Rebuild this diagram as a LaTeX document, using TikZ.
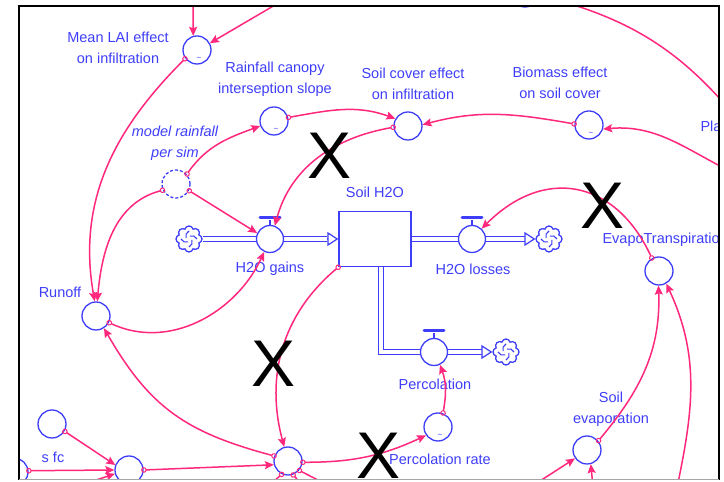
\documentclass[tikz,border=0pt]{standalone}
\usepackage{fontspec}
\setmainfont{Liberation Sans}
\usetikzlibrary{arrows.meta,shapes.symbols,backgrounds}

\definecolor{modellblau}{RGB}{62,62,250}
\definecolor{wirkpink}{RGB}{255,40,125}

\begin{document}
\begin{tikzpicture}[x=1pt, y=1pt,
	every node/.style={font=\fontsize{14.5}{21}\selectfont, text=modellblau},
	aux/.style={circle, draw=modellblau, line width=1.3pt, minimum size=28pt, inner sep=0pt, fill=white},
	valve/.style={aux, minimum size=27pt},
	stock/.style={rectangle, draw=modellblau, line width=1.3pt, minimum width=72pt, minimum height=55pt, fill=white},
	sink/.style={cloud, cloud puffs=8, aspect=1, draw=modellblau, line width=1.3pt, minimum width=26pt, minimum height=26pt, inner sep=0pt, fill=white},
	pipe/.style={draw=modellblau, double=white, line width=1.1pt, double distance=3.5pt},
	flowtip/.style={modellblau, line width=1.2pt, -{Triangle[length=11pt, width=14pt, fill=white]}},
	link/.style={wirkpink, line width=1.5pt, shorten <=-2.5pt,
		arrows={Circle[open, length=5.5pt, width=5.5pt, line width=1pt]-Stealth[length=9pt, width=8pt, inset=1.5pt]}},
	conn/.style={wirkpink, line width=1.5pt, -{Stealth[length=9pt, width=8pt, inset=1.5pt]}},
	beschr/.style={align=center},
	kreuz/.style={text=black, font=\fontsize{66}{66}\selectfont}
	]
	\useasboundingbox (0,0) rectangle (724,482);
	
	\begin{scope}
		\clip (19,2) rectangle (719,476);
		
		% Hilfsgroessen
		\node[aux] (meanlai) at (197,432) {};
		\node[aux] (slope) at (274,361) {};
		\node[aux, densely dashed] (modelrain) at (176,298) {};
		\node[aux] (soilcover) at (408,356) {};
		\node[aux] (biomass) at (589,357) {};
		\node[aux] (runoff) at (96,166) {};
		\node[aux] (evapo) at (659,211) {};
		\node[aux] (soilevap) at (587,32) {};
		\node[aux] (percrate) at (438,55) {};
		\node[aux] (sfc) at (52,58) {};
		\node[aux] (infil) at (288,21) {};
		\node[aux] (fc) at (129,12) {};
		\node[aux] (randlinks) at (14,10) {};
		\node[aux] (randoben) at (525,489) {};
		
		% kleine Tilde = Tabellenfunktion
		\foreach \g in {meanlai,slope,biomass,percrate}
			\node[font=\fontsize{8}{8}\selectfont, inner sep=0pt] (tilde\g) at ([xshift=2pt,yshift=-9pt]\g.center) {\textasciitilde};
		
		% Bestand, Ventile, Wolken
		\node[stock] (soil) at (375,243) {};
		\node[valve] (gains) at (270,243) {};
		\node[valve] (losses) at (472,243) {};
		\node[valve] (perc) at (434,130) {};
		\node[sink] (quelle) at (189,243) {};
		\node[sink] (senke) at (549,243) {};
		\node[sink] (senkeperc) at (506,130) {};
		
		\foreach \c in {quelle,senke,senkeperc}
			\foreach \w in {0,90,180,270}
				\draw[modellblau, line width=1.1pt] (\c.center) +(\w:8pt) to[bend right=45] +(\w+75:3pt);
		
		% Rohre
		\begin{scope}[on background layer]
			\draw[pipe] (quelle) -- ([xshift=-11pt]soil.west);
			\draw[pipe] (soil.east) -- ([xshift=-10pt]senke.west);
			\draw[pipe] ([xshift=6pt]soil.south) |- ([xshift=-10pt]senkeperc.west);
		\end{scope}
		\draw[flowtip] ([xshift=-11pt]soil.west) -- (soil.west);
		\draw[flowtip] ([xshift=-10pt]senke.west) -- (senke.west);
		\draw[flowtip] ([xshift=-10pt]senkeperc.west) -- (senkeperc.west);
		
		% Ventilgriffe
		\foreach \v in {gains,losses,perc} {
			\draw[modellblau, line width=1.3pt] (\v.north) -- ++(0,5);
			\draw[modellblau, line width=3pt, line cap=round] ([xshift=-10pt,yshift=7pt]\v.north) -- ([xshift=10pt,yshift=7pt]\v.north);
		}
		
		% Beschriftungen
		\node[beschr] (tmeanlai) at (118,434) {Mean LAI effect\\on infiltration};
		\node[beschr] (tslope) at (275,403) {Rainfall canopy\\interseption slope};
		\node[beschr, font=\fontsize{14.5}{21}\selectfont\itshape] (tmodelrain) at (175,339) {model rainfall\\per sim};
		\node[beschr] (tsoilcover) at (413,398) {Soil cover effect\\on infiltration};
		\node[beschr] (tbiomass) at (560,399) {Biomass effect\\on soil cover};
		\node[anchor=west] (tplant) at (697,356) {Plant};
		\node (tsoil) at (375,290) {Soil H2O};
		\node (tgains) at (270,213) {H2O gains};
		\node (tlosses) at (473,213) {H2O losses};
		\node[anchor=west] (tevapo) at (599,242) {EvapoTranspiration};
		\node (trunoff) at (60,190) {Runoff};
		\node (tperc) at (435,98) {Percolation};
		\node (tpercrate) at (440,23) {Percolation rate};
		\node[beschr] (tsoilevap) at (611,73) {Soil\\evaporation};
		\node (tsfc) at (53,25) {s fc};
		
		% Wirkungen
		\coordinate (obenA) at (193,490);
		\coordinate (obenB) at (287,484);
		\coordinate (obenC) at (550,484);
		\coordinate (rechtsA) at (740,306);
		\coordinate (rechtsB) at (740,360);
		\coordinate (untenR) at (674,-20);
		\coordinate (untenL) at (60,-10);
		\coordinate (untenM1) at (250,-20);
		\coordinate (untenM2) at (318,-20);
		\coordinate (untenM3) at (345,-12);
		\coordinate (untenS1) at (515,-15);
		\coordinate (untenS2) at (594,-15);
		
		\draw[conn] (obenA) -- (meanlai.105);
		\draw[conn] (obenB) -- (meanlai.28);
		\draw[conn] (obenC) to[out=-15, in=130] (rechtsB);
		\draw[link] (meanlai.216) to[out=225, in=100] (runoff.95);
		\draw[link] (modelrain.205) to[out=195, in=85] (runoff.85);
		\draw[link] (modelrain.42) to[out=55, in=200] (slope.200);
		\draw[link] (modelrain.333) -- (gains.155);
		\draw[link] (slope.14) to[out=10, in=160] (soilcover.150);
		\draw[link] (soilcover.185) to[out=190, in=75] (gains.70);
		\draw[link] (biomass.176) to[out=170, in=15] (soilcover.5);
		\draw[conn] (rechtsA) to[out=155, in=5] (biomass.344);
		\draw[link] (soil.south west) to[out=220, in=105] (infil.105);
		\draw[link] (runoff.333) to[out=-25, in=245] (gains.246);
		\draw[link] (evapo.119) to[out=115, in=45, looseness=1.3] (losses.47);
		\draw[link] (soilevap.39) to[out=50, in=272] (evapo.268);
		\draw[conn] (untenR) to[out=78, in=295] (evapo.300);
		\draw[link] (percrate.70) to[out=80, in=-70] (perc.295);
		\draw[link] (infil.355) to[out=0, in=205] (percrate.215);
		\draw[link] (infil.160) to[out=165, in=-60, looseness=1.1] (runoff.303);
		\draw[link] (sfc.330) -- (fc.160);
		\draw[link] (randlinks.5) -- (fc.180);
		\draw[conn] (untenL) -- (fc.195);
		\draw[link] (fc.0) -- (infil.195);
		\draw[link] (infil.245) -- (untenM1);
		\draw[link] (infil.290) -- (untenM2);
		\draw[link] (infil.320) -- (untenM3);
		\draw[conn] (untenS1) -- (soilevap.215);
		\draw[conn] (untenS2) -- (soilevap.285);
		
		% Kreuze
		\node[kreuz] (kreuzA) at (330,326) {X};
		\node[kreuz] (kreuzB) at (603,276) {X};
		\node[kreuz] (kreuzC) at (274,118) {X};
		\node[kreuz] (kreuzD) at (379,26) {X};
	\end{scope}
	
	% Rahmen
	\draw[black, line width=2.2pt] (19,2) -- (19,476) -- (719,476) -- (719,2);
	\draw[black!35, line width=1pt] (19,2) -- (719,2);
	
\end{tikzpicture}
\end{document}
